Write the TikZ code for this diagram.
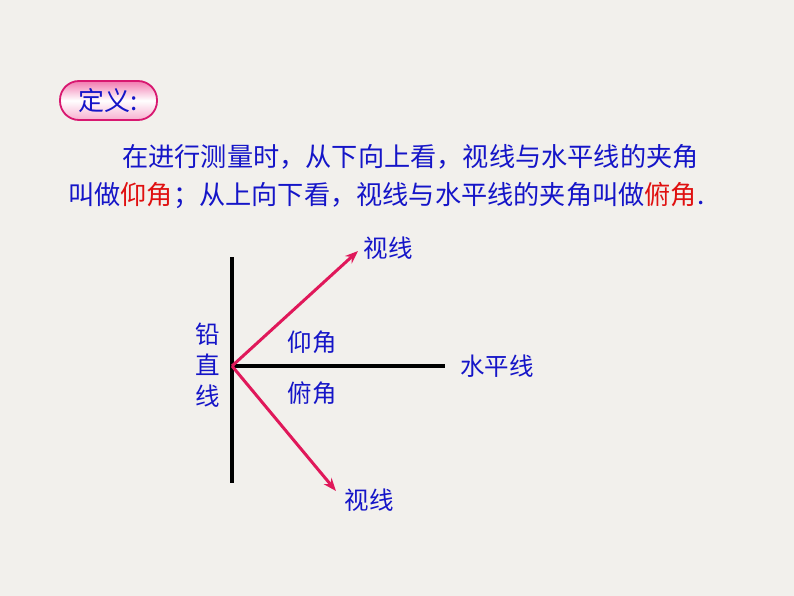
\documentclass[tikz,border=0pt]{standalone}
\usepackage{fontspec}
\setmainfont{Noto Sans CJK SC}
\usetikzlibrary{arrows.meta}
\definecolor{bg}{HTML}{F2F0EC}
\definecolor{txtblue}{HTML}{1515C8}
\definecolor{txtred}{HTML}{E01010}
\definecolor{arrowred}{HTML}{E0185A}
\definecolor{badgeedge}{HTML}{D81870}
\definecolor{badgepink}{HTML}{F27AB0}
\tikzset{
  body/.style={inner sep=0pt, text=txtblue, font=\fontsize{26.2}{30}\selectfont},
  lbl/.style={inner sep=0pt, text=txtblue, font=\fontsize{24.5}{28}\selectfont},
  axis/.style={line width=3.5pt, black},
  sight/.style={line width=3pt, arrowred, -{Stealth[length=13pt,width=10pt]}},
  badge/.style={draw=badgeedge, line width=1.8pt, rounded corners=19pt,
    top color=badgepink, bottom color=badgepink!60, middle color=white,
    minimum width=97pt, minimum height=39pt, inner sep=0pt,
    text=txtblue, font=\fontsize{26}{30}\selectfont}
}
\begin{document}
\begin{tikzpicture}[x=1pt,y=-1pt]
\useasboundingbox[fill=bg] (0,0) rectangle (794,596);
% badge
\node[badge] (def) at (108.5,100.5) {定义:};
% definition text
\node[body, anchor=base west] (l1) at (122,167) {在进行测量时，从下向上看，视线与水平线的夹角};
\node[body, anchor=base west] (l2) at (68,204) {叫做\textcolor{txtred}{仰角}；从上向下看，视线与水平线的夹角叫做\textcolor{txtred}{俯角}.};
% diagram
\coordinate (O) at (232,366);
\coordinate (Vt) at (232,257);
\coordinate (Vb) at (232,483);
\coordinate (H) at (445,366);
\coordinate (A1) at (358,251);
\coordinate (A2) at (336,491);
\draw[axis] (Vt) -- (Vb);
\draw[axis] (O) -- (H);
\draw[sight] (O) -- (A1);
\draw[sight] (O) -- (A2);
\node[lbl] (s1) at (388,248) {视线};
\node[lbl] (s2) at (369,500) {视线};
\node[lbl] (up) at (312,342) {仰角};
\node[lbl] (dn) at (312,393) {俯角};
\node[lbl] (hz) at (497,366) {水平线};
\node[lbl] (c1) at (208,334) {铅};
\node[lbl] (c2) at (208,365) {直};
\node[lbl] (c3) at (208,396) {线};
\end{tikzpicture}
\end{document}
